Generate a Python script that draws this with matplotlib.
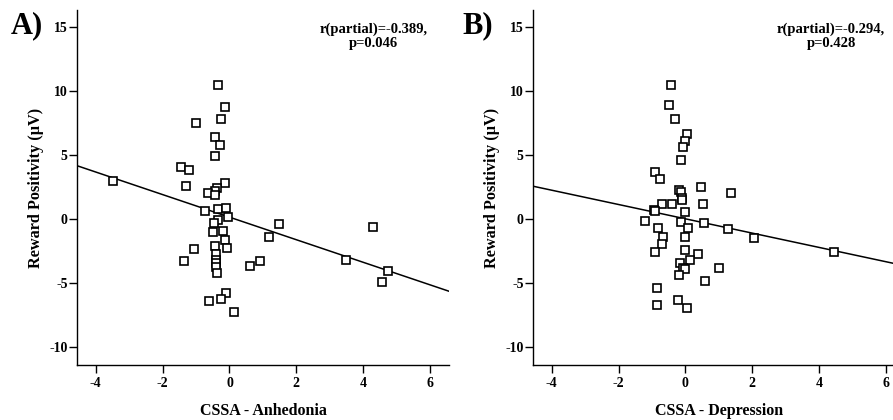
import matplotlib
matplotlib.use("Agg")
import matplotlib.pyplot as plt

plt.rcParams['font.family'] = ['Liberation Serif', 'DejaVu Serif']
plt.rcParams['font.weight'] = 'bold'
plt.rcParams['axes.unicode_minus'] = False

# Panel A: CSSA - Anhedonia vs reward positivity
anh_x = [-3.48, -0.33, -0.14, -0.26, -1.01, -0.43, -0.28, -0.44, -1.45, -1.21,
         -1.30, -0.12, -0.38, -0.42, -0.63, -0.43, -0.74, -0.33, -0.10, -0.05,
         -0.33, -0.45, -0.48, -0.20, -0.13, -0.06, -0.43, -1.07, -1.37, -0.41,
         -0.41, -0.41, -0.40, -0.38, 0.60, 0.91, 1.17, 1.47, 4.29, 3.48,
         4.74, 4.56, -0.10, -0.25, -0.61, 0.14]
anh_y = [2.97, 10.43, 8.76, 7.83, 7.52, 6.42, 5.80, 4.94, 4.09, 3.83,
         2.58, 2.84, 2.40, 2.21, 2.06, 1.88, 0.63, 0.81, 0.84, 0.19,
         -0.07, -0.28, -0.98, -0.90, -1.63, -2.28, -2.07, -2.33, -3.30, -2.75,
         -3.19, -3.45, -3.71, -4.18, -3.63, -3.30, -1.42, -0.38, -0.59, -3.22,
         -4.07, -4.91, -5.79, -6.21, -6.41, -7.27]
anh_fit = (0.15, -0.88)  # intercept, slope
anh_label = "r(partial)=-0.389,\np=0.046"

# Panel B: CSSA - Depression vs reward positivity
dep_x = [-0.44, -0.48, -0.32, 0.05, -0.01, -0.08, -0.12, -0.92, -0.75, -0.20,
         -0.14, -0.10, -0.09, 0.48, 1.36, -0.71, -0.39, -0.02, 0.54, -0.94,
         -0.90, -1.21, -0.13, 0.08, 0.56, -0.82, 1.26, -0.67, 2.05, -0.02,
         -0.71, 0.00, -0.91, 0.38, 4.45, 0.14, -0.15, -0.07, -0.02, -0.18,
         0.99, 0.59, -0.86, -0.85, -0.23, 0.06]
dep_y = [10.42, 8.93, 7.84, 6.61, 6.07, 5.65, 4.61, 3.70, 3.15, 2.27,
         2.11, 1.65, 1.50, 2.50, 2.03, 1.17, 1.20, 0.55, 1.15, 0.68,
         0.60, -0.18, -0.23, -0.73, -0.34, -0.68, -0.81, -1.38, -1.51, -1.43,
         -1.95, -2.40, -2.58, -2.71, -2.58, -3.18, -3.44, -3.83, -3.91, -4.35,
         -3.83, -4.82, -5.36, -6.67, -6.28, -6.95]
dep_fit = (0.02, -0.558)
dep_label = "r(partial)=-0.294,\np=0.428"

xticks = [-4, -2, 0, 2, 4, 6]
yticks = [-10, -5, 0, 5, 10, 15]
xlim = (-4.55, 6.57)
ylim = (-11.38, 16.3)

fig = plt.figure(figsize=(8.93, 4.2), dpi=100)
axA = fig.add_axes([0.0866, 0.131, 0.4163, 0.845])
axB = fig.add_axes([0.5972, 0.131, 0.4163, 0.845])

panels = [
    (axA, anh_x, anh_y, anh_fit, anh_label, "CSSA - Anhedonia", "A)", 4.3, -0.18),
    (axB, dep_x, dep_y, dep_fit, dep_label, "CSSA - Depression", "B)", 4.36, -0.19),
]

for ax, xs, ys, fit, lab, xlab, tag, tx, tagx in panels:
    ax.plot(xs, ys, 's', ms=5.6, mfc='white', mec='black', mew=1.2, zorder=3)
    b0, b1 = fit
    ax.plot(xlim, [b0 + b1 * xlim[0], b0 + b1 * xlim[1]], color='black', lw=1.1, zorder=2)
    ax.set_xlim(xlim)
    ax.set_ylim(ylim)
    ax.set_xticks(xticks)
    ax.set_yticks(yticks)
    ax.spines['top'].set_visible(False)
    ax.spines['right'].set_visible(False)
    ax.spines['left'].set_linewidth(1.0)
    ax.spines['bottom'].set_linewidth(1.0)
    ax.tick_params(direction='out', length=6, width=1.0, labelsize=10, pad=1)
    ax.tick_params(axis='x', pad=3)
    for t in ax.get_xticklabels() + ax.get_yticklabels():
        t.set_fontweight('bold')
    ax.set_xlabel(xlab, fontsize=11.5, fontweight='bold', labelpad=9)
    ax.set_ylabel("Reward Positivity (μV)", fontsize=11.7, fontweight='bold', labelpad=4)
    ax.text(tx, 15.3, lab, ha='center', va='top', fontsize=10.5, fontweight='bold',
            linespacing=1.1)
    ax.text(tagx, 0.955, tag, transform=ax.transAxes, fontsize=22, fontweight='bold',
            ha='left', va='center')

fig.savefig('out.png', dpi=100)
